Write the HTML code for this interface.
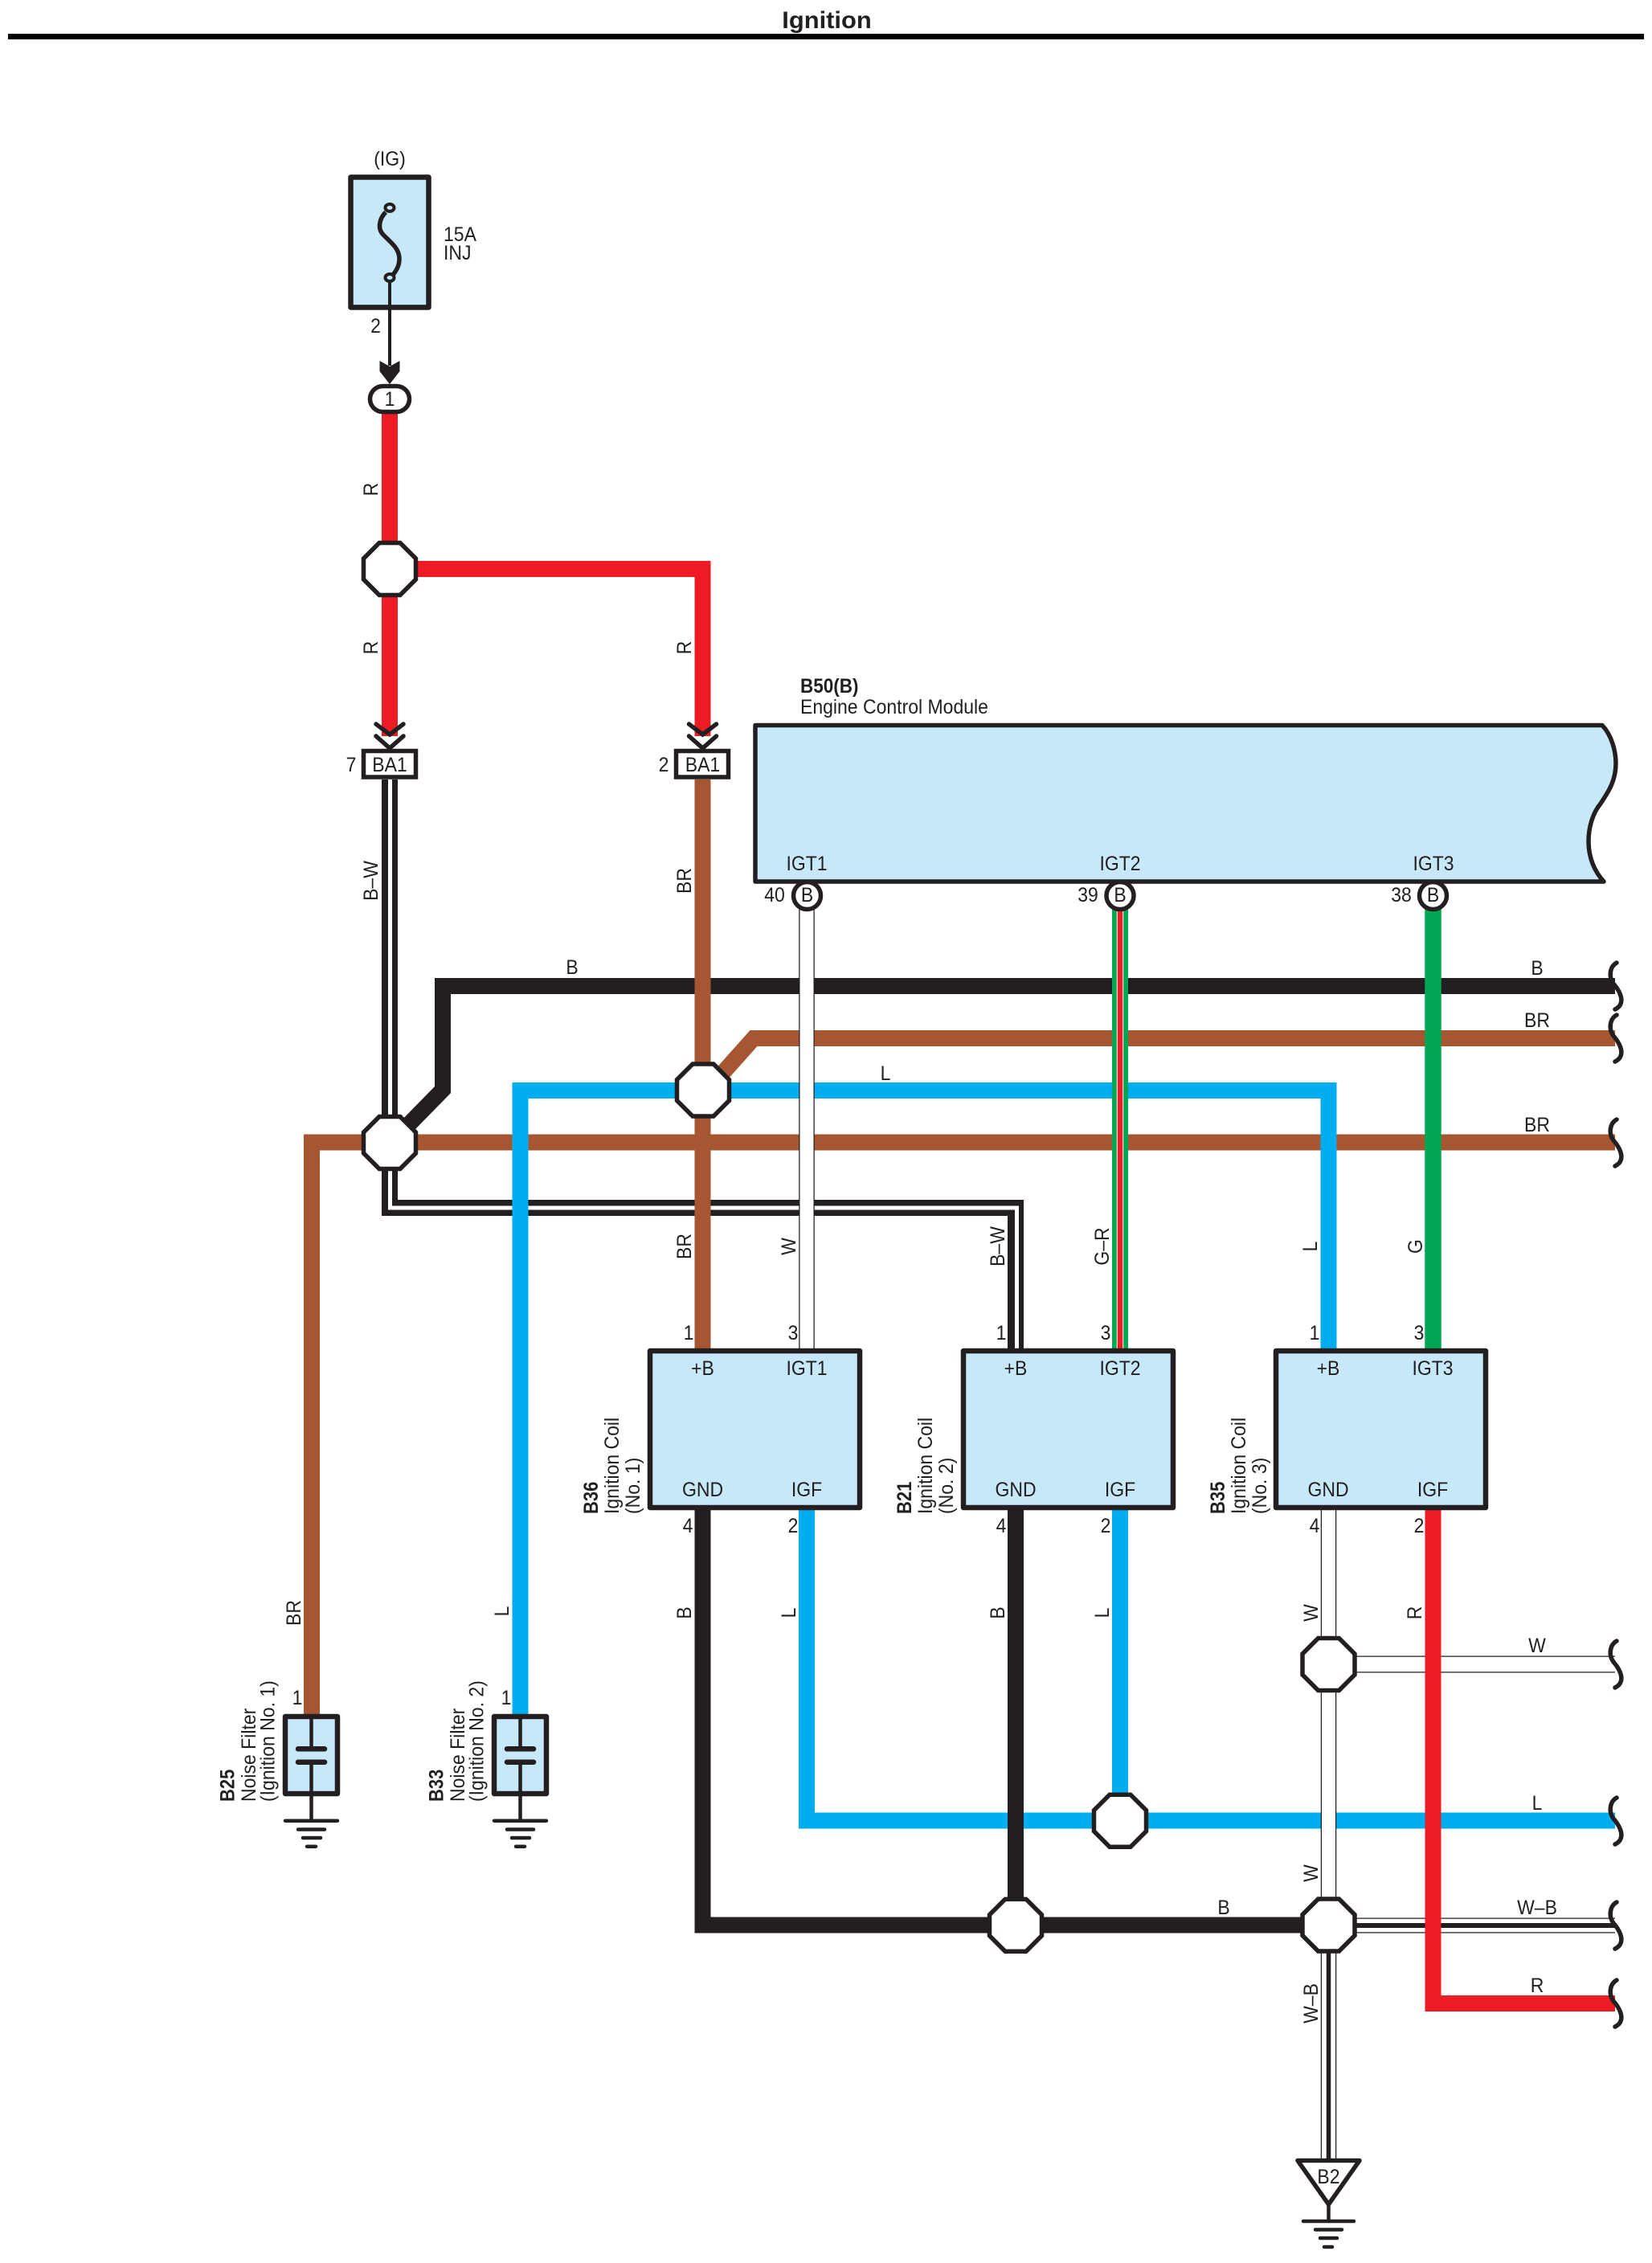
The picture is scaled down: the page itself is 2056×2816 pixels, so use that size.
<!DOCTYPE html>
<html lang="en">
<head>
<meta charset="utf-8">
<title>Ignition</title>
<style>
html,body{margin:0;padding:0;background:#fff}
svg{display:block}
text{font-family:"Liberation Sans",sans-serif;font-size:25px;fill:#231f20;text-anchor:middle}
.l{text-anchor:start}
.b{font-weight:bold}
.w{fill:none;stroke-linejoin:miter;stroke-width:20}
.k{stroke:#231f20}.n{stroke:#a65631}.c{stroke:#00aeef}.r{stroke:#ed1c24}.g{stroke:#00a651}
.o{fill:#fff;stroke:#231f20;stroke-width:5.5;stroke-linejoin:miter}
.s{fill:#c7e8f9;stroke:#231f20;stroke-width:6.5;stroke-linejoin:round}
.t{fill:none;stroke:#231f20;stroke-width:4.5;stroke-linecap:round}
.h{fill:none;stroke:#231f20;stroke-width:5.5;stroke-linecap:round}
.cap{fill:none;stroke:#231f20;stroke-width:6.5;stroke-linecap:round}
</style>
</head>
<body>
<svg xmlns="http://www.w3.org/2000/svg" width="2056" height="2816" viewBox="0 0 2056 2816">
<rect width="2056" height="2816" fill="#fff"/>

<!-- Title -->
<text class="b" transform="translate(1029 35) scale(1.03 1)" style="font-size:30px">Ignition</text>
<rect x="10" y="42" width="2036" height="7" fill="#000"/>

<!-- Lower-layer horizontal wires -->
<path class="w k" d="M505,1403 L551,1356 V1227 H2010"/>
<path class="w n" d="M888,1348 L938,1292 H2010"/>
<path class="w n" d="M388,2133 V1421.5 H2010"/>
<!-- B-W wire -->
<path class="w k" d="M485,970 V1503 H1264 V1680"/>
<path fill="none" stroke="#fff" stroke-width="5" d="M485.5,970 V1503 H1265.5 V1680" stroke-linejoin="miter"/>
<!-- Blue -->
<path class="w c" d="M647.5,2133 V1357 H1653.5 V1678"/>
<!-- Brown vertical -->
<path class="w n" d="M874.5,970 V1678"/>
<!-- W wire coil 1 -->
<line x1="1004" y1="1130" x2="1004" y2="1678" stroke="#231f20" stroke-width="19.5"/>
<line x1="1004" y1="1130" x2="1004" y2="1678" stroke="#fff" stroke-width="17"/>
<!-- G-R -->
<line x1="1394" y1="1130" x2="1394" y2="1678" stroke="#00a651" stroke-width="20"/>
<line x1="1394" y1="1130" x2="1394" y2="1678" stroke="#fff" stroke-width="8.5"/>
<line x1="1394" y1="1130" x2="1394" y2="1678" stroke="#ed1c24" stroke-width="6.5"/>
<!-- G -->
<line x1="1783.5" y1="1130" x2="1783.5" y2="1678" stroke="#00a651" stroke-width="20.5"/>

<!-- Top red -->
<path class="w r" d="M485,512 V916"/>
<path class="w r" d="M500,708 H874.5 V916"/>

<!-- Lower wires -->
<path class="w c" d="M1004,1876 V2265.5 H2010"/>
<path class="w c" d="M1394,1876 V2266"/>
<path class="w k" d="M874.5,1876 V2395.5 H1640"/>
<path class="w k" d="M1264,1876 V2396"/>
<!-- W horizontal -->
<line x1="1680" y1="2071" x2="2010" y2="2071" stroke="#231f20" stroke-width="21"/>
<line x1="1680" y1="2071" x2="2012" y2="2071" stroke="#fff" stroke-width="18.5"/>
<!-- W-B horizontal -->
<line x1="1680" y1="2396" x2="2010" y2="2396" stroke="#231f20" stroke-width="19"/>
<line x1="1680" y1="2396" x2="2012" y2="2396" stroke="#fff" stroke-width="16.5"/>
<line x1="1680" y1="2396" x2="2010" y2="2396" stroke="#231f20" stroke-width="6"/>
<!-- W vertical -->
<line x1="1653.5" y1="1876" x2="1653.5" y2="2400" stroke="#231f20" stroke-width="19.5"/>
<line x1="1653.5" y1="1876" x2="1653.5" y2="2400" stroke="#fff" stroke-width="17"/>
<!-- W-B vertical -->
<line x1="1653.5" y1="2420" x2="1653.5" y2="2688" stroke="#231f20" stroke-width="19.5"/>
<line x1="1653.5" y1="2420" x2="1653.5" y2="2688" stroke="#fff" stroke-width="17"/>
<line x1="1653.5" y1="2420" x2="1653.5" y2="2688" stroke="#231f20" stroke-width="5.5"/>
<!-- R lower -->
<path class="w r" d="M1783.5,1876 V2493 H2010"/>

<!-- Fuse box -->
<rect class="s" x="436.5" y="220.5" width="97" height="162"/>
<path d="M480,264 C472,272 470,284 476,291 C484,300 497,308 497,322 C497,332 492,339 487,344" fill="none" stroke="#231f20" stroke-width="5.5"/>
<ellipse cx="485" cy="258.5" rx="5.5" ry="4.5" fill="#c7e8f9" stroke="#231f20" stroke-width="4"/>
<ellipse cx="485" cy="345.5" rx="5.5" ry="4.5" fill="#c7e8f9" stroke="#231f20" stroke-width="4"/>
<line x1="485" y1="350" x2="485" y2="455" stroke="#231f20" stroke-width="4"/>
<path d="M472.5,449 L485,456 L497.5,449 V462 L485,478 L472.5,462 Z" fill="#231f20"/>
<rect x="460.5" y="480.5" width="49" height="32" rx="16" ry="16" fill="#fff" stroke="#231f20" stroke-width="5.5"/>

<!-- Chevrons -->
<path class="h" d="M468,901 L485,914 L502,901 M468,916 L485,931 L502,916"/>
<path class="h" d="M857.5,901 L874.5,914 L891.5,901 M857.5,916 L874.5,931 L891.5,916"/>
<rect x="452.5" y="934.5" width="65" height="32.5" fill="#fff" stroke="#231f20" stroke-width="5.5"/>
<rect x="841.5" y="934.5" width="65" height="32.5" fill="#fff" stroke="#231f20" stroke-width="5.5"/>

<!-- ECM -->
<path class="s" style="stroke-width:5.5" d="M940,902.5 H1994 C2006,915 2011,935 2011,950 C2011,975 1998,990 1992,1000 C1982,1012 1977,1030 1977,1047 C1977,1068 1985,1085 1996,1097 H940 Z"/>
<circle cx="1004.5" cy="1114.5" r="17" fill="#fff" stroke="#231f20" stroke-width="5.5"/>
<circle cx="1394" cy="1114.5" r="17" fill="#fff" stroke="#231f20" stroke-width="5.5"/>
<circle cx="1783.5" cy="1114.5" r="17" fill="#fff" stroke="#231f20" stroke-width="5.5"/>

<!-- Coils -->
<rect class="s" x="809" y="1681" width="261" height="195"/>
<rect class="s" x="1199" y="1681" width="261" height="195"/>
<rect class="s" x="1588" y="1681" width="261" height="195"/>

<!-- Noise filters -->
<g>
<rect class="s" x="355" y="2136" width="65" height="96"/>
<path class="t" style="stroke-linecap:butt" d="M387.5,2136 V2176 M387.5,2193 V2266"/>
<path class="cap" d="M371,2176.3 H404 M371,2192.7 H404"/>
<path class="t" d="M355,2265.7 H420 M371,2276.5 H404 M377,2287 H399 M382,2297.7 H393"/>
</g>
<g transform="translate(260 0)">
<rect class="s" x="355" y="2136" width="65" height="96"/>
<path class="t" style="stroke-linecap:butt" d="M387.5,2136 V2176 M387.5,2193 V2266"/>
<path class="cap" d="M371,2176.3 H404 M371,2192.7 H404"/>
<path class="t" d="M355,2265.7 H420 M371,2276.5 H404 M377,2287 H399 M382,2297.7 H393"/>
</g>

<!-- Junction octagons -->
<polygon class="o" transform="translate(485 708)" points="-13,-32.5 13,-32.5 32.5,-13 32.5,13 13,32.5 -13,32.5 -32.5,13 -32.5,-13"/>
<polygon class="o" transform="translate(485 1422)" points="-13,-32.5 13,-32.5 32.5,-13 32.5,13 13,32.5 -13,32.5 -32.5,13 -32.5,-13"/>
<polygon class="o" transform="translate(875 1356.5)" points="-13,-32.5 13,-32.5 32.5,-13 32.5,13 13,32.5 -13,32.5 -32.5,13 -32.5,-13"/>
<polygon class="o" transform="translate(1653.5 2071)" points="-13,-32.5 13,-32.5 32.5,-13 32.5,13 13,32.5 -13,32.5 -32.5,13 -32.5,-13"/>
<polygon class="o" transform="translate(1653.5 2395.5)" points="-13,-32.5 13,-32.5 32.5,-13 32.5,13 13,32.5 -13,32.5 -32.5,13 -32.5,-13"/>
<polygon class="o" transform="translate(1394 2265.7)" points="-13,-32.5 13,-32.5 32.5,-13 32.5,13 13,32.5 -13,32.5 -32.5,13 -32.5,-13"/>
<polygon class="o" transform="translate(1264 2395.7)" points="-13,-32.5 13,-32.5 32.5,-13 32.5,13 13,32.5 -13,32.5 -32.5,13 -32.5,-13"/>

<!-- Ground B2 -->
<polygon points="1615,2688.5 1692,2688.5 1653.5,2743" fill="#fff" stroke="#231f20" stroke-width="5.5" stroke-linejoin="round"/>
<path class="t" style="stroke-linecap:butt" d="M1653.5,2743 V2764"/>
<path class="t" d="M1622,2764 H1685 M1637,2774.5 H1670 M1643,2785 H1664 M1648,2796 H1658"/>

<!-- Curly breaks -->
<path class="h" d="M2012,1198 c-9,5 -10,18 -4,26 c7,8 12,18 9,25 c-1,3 -3,5 -7,7"/>
<path class="h" d="M2012,1263 c-9,5 -10,18 -4,26 c7,8 12,18 9,25 c-1,3 -3,5 -7,7"/>
<path class="h" d="M2012,1393 c-9,5 -10,18 -4,26 c7,8 12,18 9,25 c-1,3 -3,5 -7,7"/>
<path class="h" d="M2012,2042 c-9,5 -10,18 -4,26 c7,8 12,18 9,25 c-1,3 -3,5 -7,7"/>
<path class="h" d="M2012,2237 c-9,5 -10,18 -4,26 c7,8 12,18 9,25 c-1,3 -3,5 -7,7"/>
<path class="h" d="M2012,2367 c-9,5 -10,18 -4,26 c7,8 12,18 9,25 c-1,3 -3,5 -7,7"/>
<path class="h" d="M2012,2464 c-9,5 -10,18 -4,26 c7,8 12,18 9,25 c-1,3 -3,5 -7,7"/>

<!-- Fuse labels -->
<text transform="translate(485 206) scale(.92 1)">(IG)</text>
<text class="l" transform="translate(552 300) scale(.92 1)">15A</text>
<text class="l" transform="translate(552 323) scale(.92 1)">INJ</text>
<text transform="translate(467.5 414) scale(.92 1)">2</text>
<text transform="translate(485 505) scale(.92 1)">1</text>
<text transform="translate(485 960) scale(.92 1)">BA1</text>
<text transform="translate(874.5 960) scale(.92 1)">BA1</text>
<text transform="translate(437 960) scale(.92 1)">7</text>
<text transform="translate(826 960) scale(.92 1)">2</text>

<!-- ECM labels -->
<text class="l b" transform="translate(996 862) scale(.9 1)">B50(B)</text>
<text class="l" transform="translate(996 888) scale(.92 1)">Engine Control Module</text>
<text transform="translate(1004 1083) scale(.92 1)">IGT1</text>
<text transform="translate(1394 1083) scale(.92 1)">IGT2</text>
<text transform="translate(1784 1083) scale(.92 1)">IGT3</text>
<text transform="translate(964 1122) scale(.92 1)">40</text>
<text transform="translate(1354 1122) scale(.92 1)">39</text>
<text transform="translate(1744 1122) scale(.92 1)">38</text>
<text transform="translate(1004.5 1122) scale(.92 1)">B</text>
<text transform="translate(1394 1122) scale(.92 1)">B</text>
<text transform="translate(1783.5 1122) scale(.92 1)">B</text>

<!-- Coil text -->
<text transform="translate(874.5 1711) scale(.92 1)">+B</text>
<text transform="translate(1004 1711) scale(.92 1)">IGT1</text>
<text transform="translate(874.5 1862) scale(.92 1)">GND</text>
<text transform="translate(1004 1862) scale(.92 1)">IGF</text>
<text transform="translate(1264 1711) scale(.92 1)">+B</text>
<text transform="translate(1394 1711) scale(.92 1)">IGT2</text>
<text transform="translate(1264 1862) scale(.92 1)">GND</text>
<text transform="translate(1394 1862) scale(.92 1)">IGF</text>
<text transform="translate(1653 1711) scale(.92 1)">+B</text>
<text transform="translate(1783 1711) scale(.92 1)">IGT3</text>
<text transform="translate(1653 1862) scale(.92 1)">GND</text>
<text transform="translate(1783 1862) scale(.92 1)">IGF</text>

<!-- Pin numbers -->
<text transform="translate(857 1667) scale(.92 1)">1</text>
<text transform="translate(987 1667) scale(.92 1)">3</text>
<text transform="translate(856 1907) scale(.92 1)">4</text>
<text transform="translate(987 1907) scale(.92 1)">2</text>
<text transform="translate(1246 1667) scale(.92 1)">1</text>
<text transform="translate(1376 1667) scale(.92 1)">3</text>
<text transform="translate(1246 1907) scale(.92 1)">4</text>
<text transform="translate(1376 1907) scale(.92 1)">2</text>
<text transform="translate(1636 1667) scale(.92 1)">1</text>
<text transform="translate(1766 1667) scale(.92 1)">3</text>
<text transform="translate(1636 1907) scale(.92 1)">4</text>
<text transform="translate(1766 1907) scale(.92 1)">2</text>
<text transform="translate(370 2121) scale(.92 1)">1</text>
<text transform="translate(630 2121) scale(.92 1)">1</text>

<!-- Device labels rotated -->
<text class="l b" transform="translate(744 1884) rotate(-90) scale(.88 1)">B36</text>
<text class="l" transform="translate(770 1884) rotate(-90) scale(.92 1)">Ignition Coil</text>
<text class="l" transform="translate(796 1884) rotate(-90) scale(.92 1)">(No. 1)</text>
<text class="l b" transform="translate(1134 1884) rotate(-90) scale(.88 1)">B21</text>
<text class="l" transform="translate(1160 1884) rotate(-90) scale(.92 1)">Ignition Coil</text>
<text class="l" transform="translate(1186 1884) rotate(-90) scale(.92 1)">(No. 2)</text>
<text class="l b" transform="translate(1524 1884) rotate(-90) scale(.88 1)">B35</text>
<text class="l" transform="translate(1550 1884) rotate(-90) scale(.92 1)">Ignition Coil</text>
<text class="l" transform="translate(1576 1884) rotate(-90) scale(.92 1)">(No. 3)</text>
<text class="l b" transform="translate(291.5 2242) rotate(-90) scale(.88 1)">B25</text>
<text class="l" transform="translate(318 2242) rotate(-90) scale(.92 1)">Noise Filter</text>
<text class="l" transform="translate(341.5 2242) rotate(-90) scale(.92 1)">(Ignition No. 1)</text>
<text class="l b" transform="translate(551.5 2242) rotate(-90) scale(.88 1)">B33</text>
<text class="l" transform="translate(578 2242) rotate(-90) scale(.92 1)">Noise Filter</text>
<text class="l" transform="translate(601.5 2242) rotate(-90) scale(.92 1)">(Ignition No. 2)</text>

<!-- Wire labels rotated -->
<text transform="translate(470 609) rotate(-90) scale(.92 1)">R</text>
<text transform="translate(470 806) rotate(-90) scale(.92 1)">R</text>
<text transform="translate(860 806) rotate(-90) scale(.92 1)">R</text>
<text transform="translate(470 1096) rotate(-90) scale(.92 1)">B–W</text>
<text transform="translate(860 1096) rotate(-90) scale(.92 1)">BR</text>
<text transform="translate(860 1551) rotate(-90) scale(.92 1)">BR</text>
<text transform="translate(990 1551) rotate(-90) scale(.92 1)">W</text>
<text transform="translate(1250 1551) rotate(-90) scale(.92 1)">B–W</text>
<text transform="translate(1380 1551) rotate(-90) scale(.92 1)">G–R</text>
<text transform="translate(1639 1551) rotate(-90) scale(.92 1)">L</text>
<text transform="translate(1770 1551) rotate(-90) scale(.92 1)">G</text>
<text transform="translate(374 2007) rotate(-90) scale(.92 1)">BR</text>
<text transform="translate(633 2005) rotate(-90) scale(.92 1)">L</text>
<text transform="translate(860 2007) rotate(-90) scale(.92 1)">B</text>
<text transform="translate(990 2007) rotate(-90) scale(.92 1)">L</text>
<text transform="translate(1250 2007) rotate(-90) scale(.92 1)">B</text>
<text transform="translate(1380 2007) rotate(-90) scale(.92 1)">L</text>
<text transform="translate(1640 2007) rotate(-90) scale(.92 1)">W</text>
<text transform="translate(1769 2007) rotate(-90) scale(.92 1)">R</text>
<text transform="translate(1640 2331) rotate(-90) scale(.92 1)">W</text>
<text transform="translate(1640 2493) rotate(-90) scale(.92 1)">W–B</text>

<!-- Wire labels horizontal -->
<text transform="translate(712 1212) scale(.92 1)">B</text>
<text transform="translate(1913 1213) scale(.92 1)">B</text>
<text transform="translate(1913 1278) scale(.92 1)">BR</text>
<text transform="translate(1913 1408) scale(.92 1)">BR</text>
<text transform="translate(1102 1344) scale(.92 1)">L</text>
<text transform="translate(1913 2056) scale(.92 1)">W</text>
<text transform="translate(1913 2252) scale(.92 1)">L</text>
<text transform="translate(1913 2382) scale(.92 1)">W–B</text>
<text transform="translate(1913 2479) scale(.92 1)">R</text>
<text transform="translate(1523 2382) scale(.92 1)">B</text>
<text transform="translate(1653.5 2717) scale(.92 1)">B2</text>
</svg>
</body>
</html>
